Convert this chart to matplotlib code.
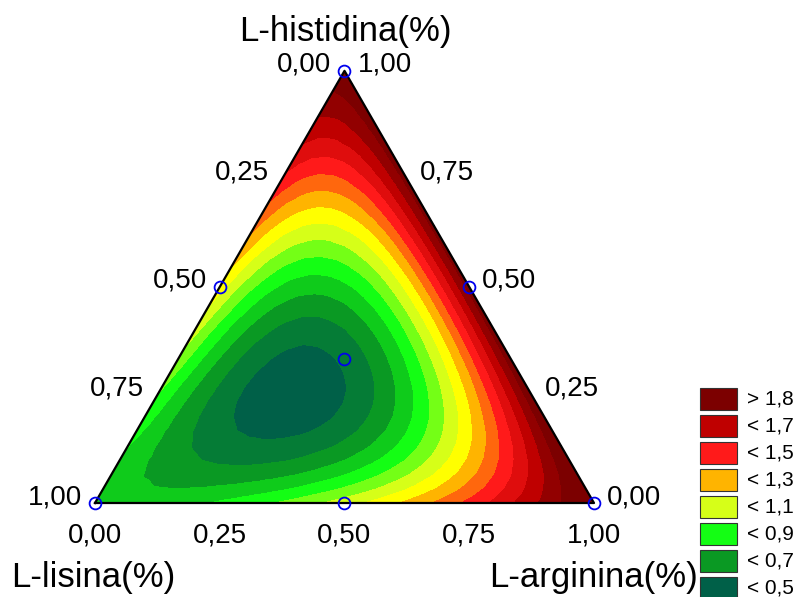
import numpy as np
import matplotlib
matplotlib.use("Agg")
import matplotlib.pyplot as plt
import matplotlib.tri as mtri
from matplotlib.colors import LinearSegmentedColormap
from matplotlib.patches import Rectangle

plt.rcParams["font.family"] = ["Liberation Sans", "DejaVu Sans"]

# design points (simplex centroid) and measured response
LISINA = [1.0, 0.0, 0.0, 0.5, 0.5, 0.0, 1 / 3]
ARGININA = [0.0, 1.0, 0.0, 0.5, 0.0, 0.5, 1 / 3]
HISTIDINA = [0.0, 0.0, 1.0, 0.0, 0.5, 0.5, 1 / 3]
RESPONSE = [0.72, 1.95, 1.88, 1.05, 1.15, 1.85, 0.52]

LEVELS = [0.0, 0.5, 0.6, 0.7, 0.8, 0.9, 1.0, 1.1, 1.2, 1.3, 1.4, 1.5, 1.6, 1.7, 1.8, 5.0]
TICKS = [0.0, 0.25, 0.5, 0.75, 1.0]
LEGEND_LABELS = ["> 1,8", "< 1,7", "< 1,5", "< 1,3", "< 1,1", "< 0,9", "< 0,7", "< 0,5"]

# colour anchors taken from the legend swatches
ANCHOR_VALUES = [0.5, 0.7, 0.9, 1.1, 1.2, 1.3, 1.5, 1.7, 1.85]
ANCHOR_COLORS = ["#006048", "#0a9a22", "#14ff14", "#d8ff18", "#ffff00",
                 "#ffb400", "#ff1a1a", "#c00000", "#7c0000"]

W, H = 803, 597
X0, Y0, SIDE = 95, 503, 499  # pixel position of the triangle


def tern(l, a, h):
    l, a, h = np.asarray(l), np.asarray(a), np.asarray(h)
    return a + h / 2, h * np.sqrt(3) / 2


def to_px(x, y):
    return X0 + x * SIDE, Y0 - y * SIDE


def design(l, a, h):
    return np.column_stack([l, a, h, l * a, l * h, a * h, l * a * h])


def main():
    l = np.array(LISINA)
    a = np.array(ARGININA)
    h = np.array(HISTIDINA)
    coef, *_ = np.linalg.lstsq(design(l, a, h), np.array(RESPONSE), rcond=None)

    n = 30
    gl, ga, gh = [], [], []
    for i in range(n + 1):
        for j in range(n + 1 - i):
            gh.append(i / n)
            ga.append(j / n)
            gl.append(1 - i / n - j / n)
    gl, ga, gh = np.array(gl), np.array(ga), np.array(gh)
    gz = design(gl, ga, gh) @ coef
    gx, gy = tern(gl, ga, gh)

    cmap = LinearSegmentedColormap.from_list(
        "resp", list(zip([(v - 0.5) / 1.35 for v in ANCHOR_VALUES], ANCHOR_COLORS)))
    band_cols = [cmap((min(u, 1.85) - 0.5) / 1.35) for u in LEVELS[1:]]

    fig = plt.figure(figsize=(W / 100, H / 100), dpi=100)
    ax = fig.add_axes([0, 0, 1, 1])
    ax.set_xlim(-X0 / SIDE, (W - X0) / SIDE)
    ax.set_ylim(-(H - Y0) / SIDE, Y0 / SIDE)
    ax.axis("off")

    tri = mtri.Triangulation(gx, gy)
    ax.tricontourf(tri, gz, levels=LEVELS, colors=band_cols)

    vx, vy = tern([1, 0, 0, 1], [0, 1, 0, 0], [0, 0, 1, 0])
    ax.plot(vx, vy, color="black", lw=1.6)

    px, py = tern(l, a, h)
    ax.plot(px, py, "o", ms=8.5, mfc="none", mec="#0000ee", mew=1.3, clip_on=False)

    # pixel overlay for labels and legend
    pax = fig.add_axes([0, 0, 1, 1])
    pax.set_xlim(0, W)
    pax.set_ylim(H, 0)
    pax.axis("off")
    pax.patch.set_alpha(0)

    fs = 20
    for t in TICKS:
        lab = f"{t:.2f}".replace(".", ",")
        # bottom: arginina
        bx, by = to_px(*tern(1 - t, t, 0))
        pax.text(bx, by + 32, lab, ha="center", va="center", fontsize=fs)
        # right: histidina
        rx, ry = to_px(*tern(0, 1 - t, t))
        pax.text(rx + 13, ry - 6, lab, ha="left", va="center", fontsize=fs)
        # left: lisina
        lx, ly = to_px(*tern(t, 0, 1 - t))
        pax.text(lx - 13, ly - 6, lab, ha="right", va="center", fontsize=fs)

    tfs = 25
    pax.text(345, 31, "L-histidina(%)", ha="center", va="center", fontsize=tfs)
    pax.text(11, 578, "L-lisina(%)", ha="left", va="center", fontsize=tfs)
    pax.text(698, 578, "L-arginina(%)", ha="right", va="center", fontsize=tfs)

    leg_cols = [cmap((v - 0.5) / 1.35) for v in [1.85, 1.7, 1.5, 1.3, 1.1, 0.9, 0.7, 0.5]]
    for k, (lab, c) in enumerate(zip(LEGEND_LABELS, leg_cols)):
        y = 388 + k * 27
        pax.add_patch(Rectangle((700, y), 37, 22, facecolor=c, edgecolor="#333333", lw=0.8))
        pax.text(747, y + 11, lab, ha="left", va="center", fontsize=15)

    fig.savefig("out.png", dpi=100)
    plt.close(fig)


if __name__ == "__main__":
    main()
